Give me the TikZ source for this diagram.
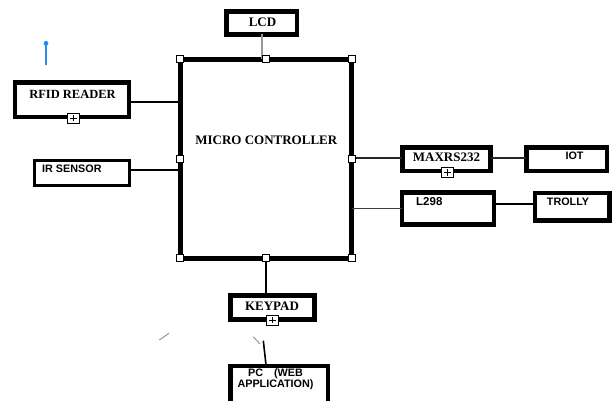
\documentclass[tikz,border=0pt]{standalone}
\usepackage{fontspec}
\setmainfont{Liberation Serif}
\newfontfamily\sansf{Liberation Sans}
\definecolor{pinblue}{RGB}{40,140,245}
\tikzset{
  blk/.style={draw=black, line width=4.5pt, inner sep=0pt, outer sep=0pt, fill=white},
  handle/.style={draw=black, fill=white, line width=0.8pt, minimum size=7pt, inner sep=0pt},
  plusbox/.style={draw=black, fill=white, line width=0.8pt, minimum width=12pt, minimum height=10pt, inner sep=0pt,
    path picture={
      \draw[line width=0.9pt] ([xshift=2.5pt]path picture bounding box.west) -- ([xshift=-2.5pt]path picture bounding box.east);
      \draw[line width=0.9pt] ([yshift=-1.8pt]path picture bounding box.north) -- ([yshift=1.8pt]path picture bounding box.south);}},
  serif/.style={inner sep=0pt, font=\fontsize{13}{15}\selectfont\bfseries},
  sans/.style={inner sep=0pt, font=\fontsize{10.8}{11}\selectfont\sansf\bfseries},
  wire/.style={line width=1.6pt},
}
\begin{document}
\begin{tikzpicture}[x=1pt,y=-1pt]
\useasboundingbox (0,0) rectangle (615,400);
\begin{scope}
\clip (0,0) rectangle (615,400);
\coordinate (lcdjoin) at (262,59.3);
\coordinate (pcfree) at (263.3,340.7);
\coordinate (pctop) at (266,365);
\coordinate (gA1) at (159.3,340);
\coordinate (gA2) at (169,333.3);
\coordinate (gB1) at (253.3,336.7);
\coordinate (gB2) at (260,344);

% boxes
\node[blk, line width=5pt, minimum width=171.4pt, minimum height=199pt] (micro) at (266,158.8) {};
\node[blk, minimum width=70.5pt, minimum height=22.9pt] (lcd) at (261.5,23) {};
\node[blk, minimum width=113.8pt, minimum height=34.5pt] (rfid) at (71.9,99.5) {};
\node[blk, line width=3.2pt, minimum width=94.8pt, minimum height=24.8pt] (ir) at (82,173) {};
\node[blk, minimum width=88.2pt, minimum height=23.5pt] (max) at (446.4,159) {};
\node[blk, minimum width=80.5pt, minimum height=23.5pt] (iot) at (566.5,159) {};
\node[blk, minimum width=92pt, minimum height=32.2pt] (l298) at (447.8,208.4) {};
\node[blk, minimum width=74.5pt, minimum height=27.5pt] (trolly) at (572.2,206.7) {};
\node[blk, minimum width=83.9pt, minimum height=23.9pt] (keypad) at (272.5,307.5) {};
\node[blk, minimum width=97.2pt, minimum height=52.2pt] (pc) at (279.2,391.9) {};

% connectors
\draw[line width=1.3pt, color=black!40] (lcd.south -| lcdjoin) -- (lcdjoin);
\draw[wire] (rfid.east |- 0,102) -- (micro.west |- 0,102);
\draw[wire] (ir.east |- 0,170) -- (micro.west |- 0,170);
\draw[wire, black!85] (micro.east |- 0,158) -- (max.west |- 0,158);
\draw[wire, black!85] (max.east |- 0,158) -- (iot.west |- 0,158);
\draw[line width=1.6pt, black!75] (micro.east |- 0,208.3) -- (l298.west |- 0,208.3);
\draw[wire] (l298.east |- 0,204) -- (trolly.west |- 0,204);
\draw[line width=2.2pt] (micro.south) -- (micro.south |- keypad.north);
\draw[wire] (pcfree) -- (pctop);
\draw[line width=0.9pt, black!45] (gA1) -- (gA2);
\draw[line width=0.9pt, black!45] (gB1) -- (gB2);

% handles
\node[handle] (h1) at (micro.north west) {};
\node[handle] (h2) at (micro.north) {};
\node[handle] (h3) at (micro.north east) {};
\node[handle] (h4) at (micro.east) {};
\node[handle] (h5) at (micro.south east) {};
\node[handle] (h6) at (micro.south) {};
\node[handle] (h7) at (micro.south west) {};
\node[handle] (h8) at (micro.west) {};

% plus boxes
\node[plusbox] (p1) at (73,118) {};
\node[plusbox] (p2) at (447,172.5) {};
\node[plusbox] (p3) at (272.5,320) {};

% texts
\node[serif] (lcdt) at (262.5,22.7) {LCD};
\node[serif] (microt) at (266.3,140) {MICRO CONTROLLER};
\node[serif, font=\fontsize{12.5}{15}\selectfont\bfseries] (rfidt) at (72.5,94) {RFID READER};
\node[serif] (maxt) at (446.5,157) {MAXRS232};
\node[serif] (keypadt) at (272,306) {KEYPAD};
\node[sans, anchor=west] (irt) at (42,169) {IR SENSOR};
\node[sans] (iott) at (574.5,155.5) {IOT};
\node[sans, anchor=west, font=\fontsize{11.5}{12}\selectfont\sansf\bfseries] (l298t) at (416,201.7) {L298};
\node[sans, anchor=west] (trollyt) at (546.7,201.7) {TROLLY};
\node[sans, align=center] (pct) at (275.5,379) {PC\hspace{11pt}(WEB\\APPLICATION)};

% blue pin
\coordinate (pinTop) at (46,43.3);
\coordinate (pinBot) at (46,65);
\draw[pinblue, line width=1.4pt] (pinTop) -- (pinBot);
\fill[pinblue] (pinTop) circle (2.4pt);
\end{scope}
\end{tikzpicture}
\end{document}
